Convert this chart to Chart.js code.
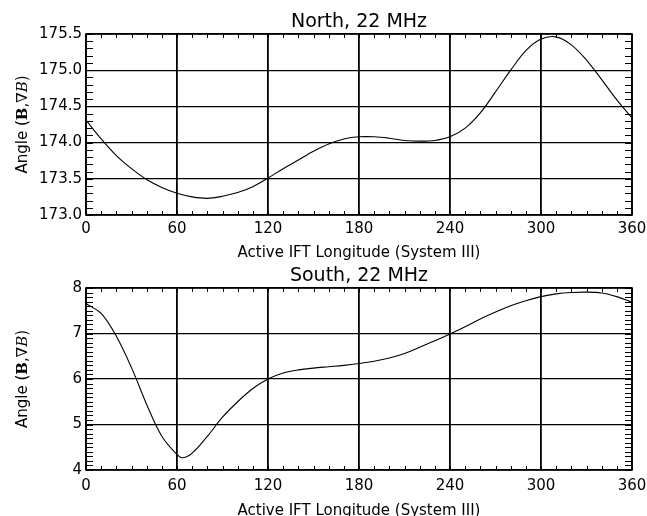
<!DOCTYPE html>
<html>
<head>
<meta charset="utf-8">
<script src="https://cdn.jsdelivr.net/npm/chart.js@4/dist/chart.umd.min.js"></script>
<style>
  html, body { margin: 0; padding: 0; background: #fff; }
  #top-wrap { position: relative; width: 647px; height: 264px; }
  #bot-wrap { position: relative; width: 647px; height: 252px; }
</style>
</head>
<body>
<div id="top-wrap"><canvas id="chart-north"></canvas></div>
<div id="bot-wrap"><canvas id="chart-south"></canvas></div>
<script>
// Longitude grid (System III, degrees)
const NORTH_LON = [0,10,20,30,40,50,60,70,80,90,100,110,120,130,140,150,160,170,180,
  190,200,210,220,230,240,250,260,270,280,290,300,310,320,330,340,350,360];
const NORTH_ANGLE = [174.31,174.05,173.82,173.64,173.49,173.38,173.30,173.25,173.23,173.26,
  173.31,173.39,173.51,173.64,173.76,173.88,173.98,174.05,174.08,174.08,174.06,174.03,174.02,
  174.03,174.08,174.20,174.41,174.70,175.00,175.27,175.43,175.46,175.35,175.14,174.87,174.59,174.34];

const SOUTH_LON = [0,10,20,30,40,50,60,64,70,80,90,100,110,120,130,140,150,160,170,180,
  190,200,210,220,230,240,250,260,270,280,290,300,310,320,330,340,350,360];
const SOUTH_ANGLE = [7.66,7.44,6.94,6.25,5.44,4.74,4.34,4.27,4.37,4.74,5.16,5.50,5.79,6.00,
  6.13,6.20,6.24,6.27,6.30,6.34,6.39,6.46,6.56,6.70,6.84,6.99,7.15,7.32,7.47,7.61,7.72,7.81,
  7.87,7.90,7.91,7.89,7.81,7.69];

const X_TICKS = [0, 60, 120, 180, 240, 300, 360];
const NORTH_Y_TICKS = [173.0, 173.5, 174.0, 174.5, 175.0, 175.5];
const SOUTH_Y_TICKS = [4, 5, 6, 7, 8];
const X_TITLE = 'Active IFT Longitude (System III)';

const FONT = 'DejaVu Sans';
Chart.defaults.font.family = FONT;
Chart.defaults.color = '#000';

// IDL-style frame: inward minor ticks on all four sides, box, title, mixed-font y title
const idlFrame = {
  id: 'idlFrame',
  afterDraw(chart, args, o) {
    const { ctx, chartArea: a, scales: { x, y } } = chart;
    ctx.save();
    ctx.strokeStyle = '#000';
    ctx.lineWidth = 1;
    ctx.beginPath();
    for (let v = x.min; v <= x.max + 1e-6; v += o.xMinor) {
      const px = Math.round(x.getPixelForValue(v)) + 0.5;
      ctx.moveTo(px, a.bottom); ctx.lineTo(px, a.bottom - 4);
      ctx.moveTo(px, a.top); ctx.lineTo(px, a.top + 4);
    }
    const n = Math.round((y.max - y.min) / o.yMinor);
    for (let i = 0; i <= n; i++) {
      const py = Math.round(y.getPixelForValue(y.min + i * o.yMinor)) + 0.5;
      ctx.moveTo(a.left, py); ctx.lineTo(a.left + 7, py);
      ctx.moveTo(a.right, py); ctx.lineTo(a.right - 7, py);
    }
    ctx.stroke();

    ctx.lineWidth = 1.6;
    ctx.strokeRect(a.left, a.top, a.right - a.left, a.bottom - a.top);

    // title, centred over the plot
    ctx.fillStyle = '#000';
    ctx.font = `19px "${FONT}"`;
    ctx.textAlign = 'center';
    ctx.textBaseline = 'alphabetic';
    ctx.fillText(o.title, (a.left + a.right) / 2, o.titleY);

    // y title: Angle (B,∇B) with bold B and italic B
    const parts = [
      ['Angle (', `15px "${FONT}"`],
      ['B', `bold 15px "DejaVu Serif"`],
      [',', `15px "${FONT}"`],
      ['∇', `15px "DejaVu Serif"`],
      ['B', `italic 15px "DejaVu Serif"`],
      [')', `15px "${FONT}"`],
    ];
    let total = 0;
    parts.forEach(p => { ctx.font = p[1]; total += ctx.measureText(p[0]).width; });
    ctx.translate(27, (a.top + a.bottom) / 2);
    ctx.rotate(-Math.PI / 2);
    ctx.textAlign = 'left';
    let cx = -total / 2;
    parts.forEach(p => {
      ctx.font = p[1];
      ctx.fillText(p[0], cx, 0);
      cx += ctx.measureText(p[0]).width;
    });
    ctx.restore();
  },
};

function makeChart(id, lon, vals, yTicks, cfg) {
  return new Chart(document.getElementById(id), {
    type: 'line',
    data: {
      datasets: [{
        data: lon.map((l, i) => ({ x: l, y: vals[i] })),
        borderColor: '#000', borderWidth: 1.1, pointRadius: 0,
        tension: 0.35, fill: false,
      }],
    },
    options: {
      responsive: true, maintainAspectRatio: false, animation: false,
      layout: { padding: { top: cfg.padTop, right: 15, left: 0, bottom: 0 } },
      plugins: {
        legend: { display: false }, tooltip: { enabled: false },
        idlFrame: { title: cfg.title, titleY: cfg.titleY, xMinor: 10, yMinor: 0.1 },
      },
      scales: {
        x: {
          type: 'linear', min: 0, max: 360,
          afterBuildTicks: s => { s.ticks = X_TICKS.map(v => ({ value: v })); },
          afterFit: s => { s.height = cfg.xHeight; s.paddingLeft = 0; s.paddingRight = 0; },
          grid: { color: '#000', lineWidth: 1.8, drawTicks: false },
          border: { display: false },
          ticks: { color: '#000', font: { size: 15 }, padding: cfg.xPad, maxRotation: 0, autoSkip: false },
          title: { display: true, text: X_TITLE, color: '#000', font: { size: 15 },
                   padding: { top: 0, bottom: cfg.xTitlePad } },
        },
        y: {
          type: 'linear', min: yTicks[0], max: yTicks[yTicks.length - 1],
          afterBuildTicks: s => { s.ticks = yTicks.map(v => ({ value: v })); },
          afterFit: s => { s.width = 86; },
          grid: { color: '#000', lineWidth: 1.3, drawTicks: false },
          border: { display: false },
          ticks: { color: '#000', font: { size: 15 }, padding: 4, autoSkip: false,
                   callback: v => cfg.decimals ? Number(v).toFixed(cfg.decimals) : String(v) },
        },
      },
    },
    plugins: [idlFrame],
  });
}

makeChart('chart-north', NORTH_LON, NORTH_ANGLE, NORTH_Y_TICKS,
  { title: 'North, 22 MHz', titleY: 27, padTop: 34, xHeight: 49, xPad: 5, xTitlePad: 2, decimals: 1 });
makeChart('chart-south', SOUTH_LON, SOUTH_ANGLE, SOUTH_Y_TICKS,
  { title: 'South, 22 MHz', titleY: 17, padTop: 24, xHeight: 46, xPad: 7, xTitlePad: -4, decimals: 0 });
</script>
</body>
</html>
